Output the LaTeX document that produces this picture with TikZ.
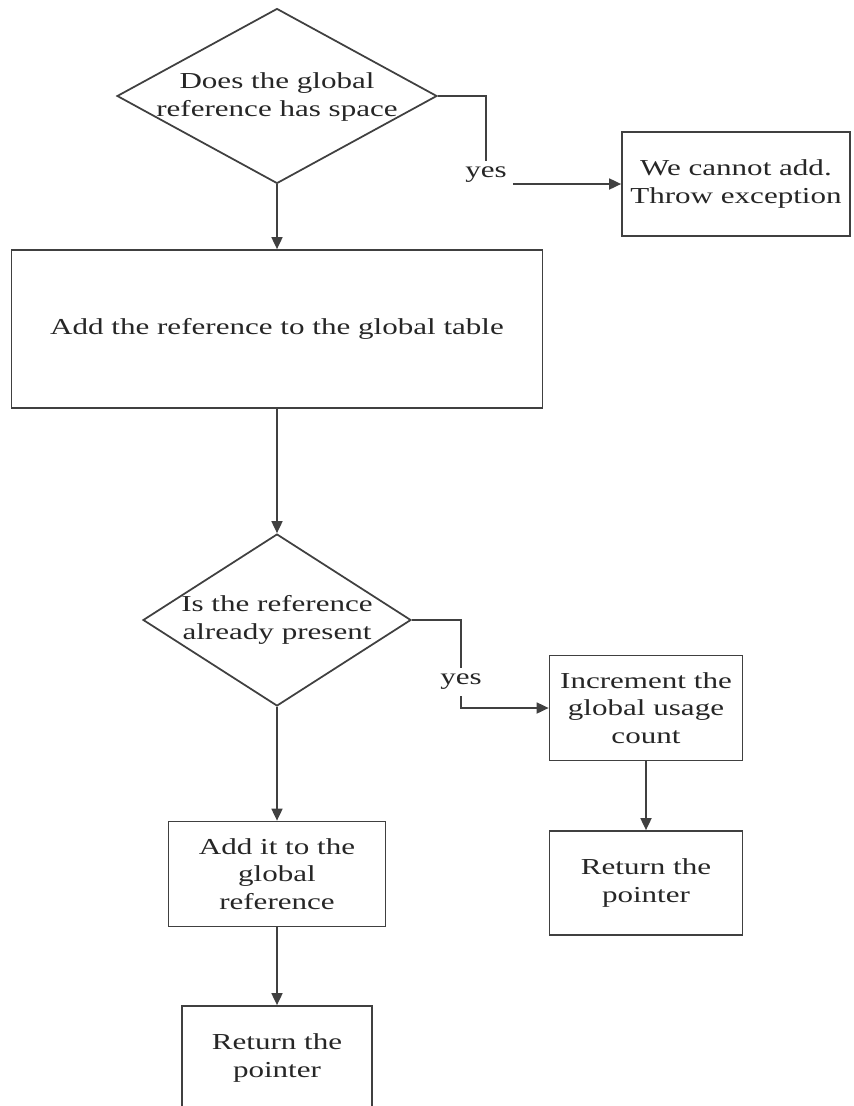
\documentclass[tikz,border=0pt]{standalone}
\usepackage{fontspec}
\setmainfont{Liberation Serif}[FakeStretch=1.36]
\usetikzlibrary{arrows.meta,positioning}
\usetikzlibrary{shapes.geometric}

\begin{document}
\begin{tikzpicture}[x=0.02cm, y=-0.02cm,
        line/.style = {draw=black!75, line width=1pt},
        box/.style = {line, rectangle, align=center, inner sep=0, text=black!85, font=\fontsize{13}{15.6}\selectfont},
        decision/.style = {line, diamond, inner sep=0},
        txt/.style = {align=center, text=black!85, font=\fontsize{13}{15.6}\selectfont},
        arrow/.style = {-{Triangle[length=2.4mm, width=2.2mm]}}]

        % Define the frame
        \useasboundingbox (0,0) rectangle (853,1106);
        \clip (0,0) rectangle (853,1106);

        % draw the decisions
        \node[decision, minimum width=6.4cm, minimum height=3.5cm] (has_space) at (277,96) {};
        \node[txt] (has_space_txt) at (277,97) {Does the global\\reference has space};
        \node[decision, minimum width=5.36cm, minimum height=3.44cm] (is_present) at (277,620) {};
        \node[txt] (is_present_txt) at (277,620) {Is the reference\\already present};

        % draw the boxes
        \node[box, minimum width=4.56cm, minimum height=2.08cm] (no_add) at (736,184) {We cannot add.\\Throw exception};
        \node[box, minimum width=10.62cm, minimum height=3.16cm] (add_table) at (277,329) {Add the reference to the global table};
        \node[box, minimum width=3.86cm, minimum height=2.1cm] (incr_count) at (646,708) {Increment the\\global usage\\count};
        \node[box, minimum width=3.86cm, minimum height=2.08cm] (ret_right) at (646,883) {Return the\\pointer};
        \node[box, minimum width=4.34cm, minimum height=2.1cm] (add_global) at (277,874) {Add it to the\\global\\reference};
        \node[box, minimum width=3.8cm, minimum height=2.08cm] (ret_left) at (277,1058) {Return the\\pointer};

        % draw the yes labels
        \node[txt] (yes_space) at (486,175) {yes};
        \node[txt] (yes_present) at (461,682) {yes};

        % draw the arrows
        \draw[line, arrow] (has_space.south) -- (add_table.north);
        \draw[line, arrow] (add_table.south) -- (is_present.north);
        \draw[line, arrow] (is_present.south) -- (add_global.north);
        \draw[line, arrow] (add_global.south) -- (ret_left.north);
        \draw[line, arrow] (incr_count.south) -- (ret_right.north);

        \draw[line] (has_space.east) -| (yes_space.north);
        \draw[line, arrow] (yes_space.east |- no_add.west) -- (no_add.west);
        \draw[line] (is_present.east) -| (yes_present.north);
        \draw[line, arrow] (yes_present.south) |- (incr_count.west);

\end{tikzpicture}
\end{document}
